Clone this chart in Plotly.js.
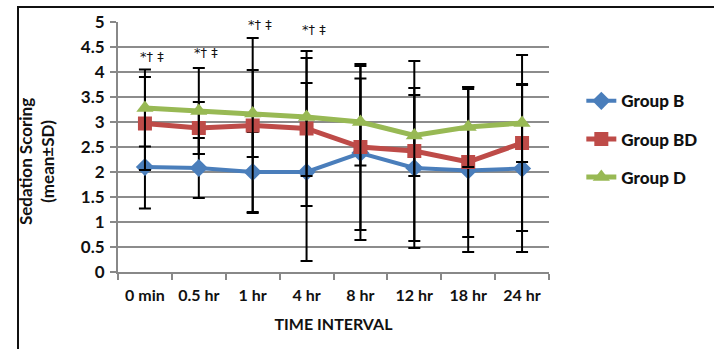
<!DOCTYPE html>
<html><head><meta charset="utf-8">
<script src="https://cdn.plot.ly/plotly-3.0.1.min.js"></script>
<style>html,body{margin:0;padding:0;background:#fff}#chart{width:714px;height:349px}</style>
</head><body><div id="chart"></div>
<script>
const categories = ["0 min","0.5 hr","1 hr","4 hr","8 hr","12 hr","18 hr","24 hr"];
const groupB  = [2.10, 2.08, 2.00, 2.00, 2.38, 2.08, 2.03, 2.07];
const groupBD = [2.97, 2.88, 2.93, 2.87, 2.50, 2.42, 2.20, 2.58];
const groupD  = [3.28, 3.22, 3.17, 3.10, 3.00, 2.73, 2.90, 2.98];
const sdB  = [0.83, 0.60, 0.80, 1.78, 1.74, 1.60, 1.63, 1.67];
const sdBD = [0.93, 0.52, 1.75, 1.55, 1.66, 1.80, 1.50, 1.76];
const sdD  = [0.77, 0.86, 0.87, 1.18, 0.87, 0.81, 0.80, 0.78];
const sigLabels = ["*† ‡", "*† ‡", "*† ‡", "*† ‡"];
const sigCats = ["0 min","0.5 hr","1 hr","4 hr"];
const sigY = [4.32, 4.4, 4.96, 4.86];

const font = "Lato, 'Open Sans', sans-serif";
function tr(name, y, sd, color, symbol, size, lw){
  return {x: categories, y: y, name: name, type: "scatter", mode: "lines+markers",
    legendgroup: name,
    line: {color: color, width: lw},
    marker: {color: color, symbol: symbol, size: size},
    error_y: {type: "data", array: sd, visible: true, color: "#000", thickness: 2, width: 6}};
}
const data = [
  tr("Group B", groupB, sdB, "#4a7ebb", "diamond", 14, 4),
  tr("Group BD", groupBD, sdBD, "#be4b48", "square", 14, 5),
  tr("Group D", groupD, sdD, "#98b954", "triangle-up", 15, 5)
];
const annotations = sigCats.map((c,i)=>({x: c, y: sigY[i], xref: "x", yref: "y", text: sigLabels[i],
  showarrow: false, xshift: 7, font: {family: "DejaVu Sans, sans-serif", size: 13, color: "#111"}}));
annotations.push({xref: "paper", yref: "paper", x: -0.19, y: 0.44, xanchor: "center", yanchor: "middle",
  text: "Sedation Scoring<br>(mean±SD)",
  textangle: -90, showarrow: false, font: {family: font, size: 17, color: "#111", weight: 700}});
const layout = {
  width: 714, height: 349,
  margin: {l: 118, r: 144, t: 22, b: 77},
  paper_bgcolor: "#fff", plot_bgcolor: "#fff",
  showlegend: true,
  legend: {x: 1.075, y: 0.755, xanchor: "left", yanchor: "top", traceorder: "grouped", tracegroupgap: 13,
    itemwidth: 30,
    font: {family: font, size: 17, color: "#111", weight: 900}, bgcolor: "rgba(0,0,0,0)"},
  xaxis: {type: "category", range: [-0.5, 7.5], showgrid: false, showline: true, linecolor: "#888", linewidth: 2,
    ticks: "outside", tickson: "boundaries", ticklen: 6, tickcolor: "#888", tickwidth: 2,
    ticklabelstandoff: 8, tickangle: 0,
    tickfont: {family: font, size: 16, color: "#111", weight: 700},
    title: {text: "TIME INTERVAL", font: {family: font, size: 16, color: "#111", weight: 700}, standoff: 16}},
  yaxis: {range: [0, 5], dtick: 0.5, showgrid: true, gridcolor: "#8c8c8c", gridwidth: 2,
    showline: true, linecolor: "#888", linewidth: 2, zeroline: false,
    ticks: "outside", ticklen: 6, tickcolor: "#888", tickwidth: 2, ticklabelstandoff: 2,
    tickfont: {family: font, size: 17, color: "#111", weight: 700}},
  annotations: annotations,
  shapes: [{type: "rect", xref: "paper", yref: "paper", x0: -0.232, x1: 1.5, y0: -0.5, y1: 1.06,
    line: {color: "#111", width: 2}, fillcolor: "rgba(0,0,0,0)"}]
};
Plotly.newPlot("chart", data, layout, {staticPlot: true});
</script></body></html>
